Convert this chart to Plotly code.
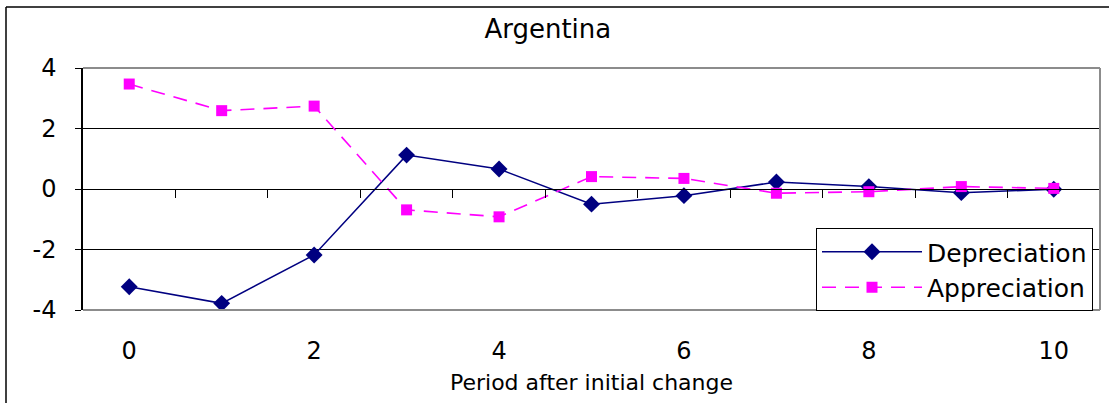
import plotly.graph_objects as go

# Response of the series in each period after the initial change
periods = [0, 1, 2, 3, 4, 5, 6, 7, 8, 9, 10]
depreciation = [-3.23, -3.78, -2.18, 1.12, 0.66, -0.50, -0.22, 0.23, 0.08, -0.12, -0.01]
appreciation = [3.47, 2.59, 2.74, -0.69, -0.92, 0.41, 0.35, -0.14, -0.09, 0.08, 0.02]

y_tickvals = [-4, -2, 0, 2, 4]
y_ticktext = ["-4", "-2", "0", "2", "4"]
x_tickvals = [0, 2, 4, 6, 8, 10]
x_ticktext = ["0", "2", "4", "6", "8", "10"]
# category boundaries where the small tick marks sit on the zero line
x_boundaries = [p + 0.5 for p in periods[:-1]]

FONT = "DejaVu Sans"
W, H = 1109, 403
ML, MR, MT, MB = 83, 9, 68, 93
plot_w = W - ML - MR
plot_h = H - MT - MB

fig = go.Figure()

fig.add_trace(go.Scatter(
    x=periods, y=depreciation, name="Depreciation", mode="lines+markers",
    line=dict(color="#000080", width=1.5),
    marker=dict(symbol="diamond", size=13, color="#000080"),
))
fig.add_trace(go.Scatter(
    x=periods, y=appreciation, name="Appreciation", mode="lines+markers",
    line=dict(color="#FF00FF", width=1.6, dash="14px,9px"),
    marker=dict(symbol="square", size=11, color="#FF00FF"),
))
# empty trace so the zero-line axis gets drawn
fig.add_trace(go.Scatter(x=[], y=[], xaxis="x2", showlegend=False, hoverinfo="skip"))

fig.update_layout(
    width=W, height=H,
    margin=dict(l=ML, r=MR, t=MT, b=MB),
    paper_bgcolor="white", plot_bgcolor="white",
    font=dict(family=FONT, color="black"),
    title=dict(text="Argentina", x=0.494, xanchor="center", y=1 - 29 / H,
               yanchor="middle", font=dict(family=FONT, size=26, color="black")),
    showlegend=True,
    legend=dict(
        x=(816 - ML) / plot_w, y=(H - MB - 228) / plot_h,
        xanchor="left", yanchor="top",
        bgcolor="white", bordercolor="black", borderwidth=1,
        font=dict(family=FONT, size=25, color="black"),
        itemwidth=100,
    ),
    xaxis=dict(
        range=[-0.5, 10.5], tickvals=x_tickvals, ticktext=x_ticktext,
        showgrid=False, zeroline=False, showline=False, ticks="",
        tickfont=dict(family=FONT, size=24), ticklabelstandoff=24,
        title=dict(text="Period after initial change",
                   font=dict(family=FONT, size=22), standoff=10),
    ),
    xaxis2=dict(
        range=[-0.5, 10.5], overlaying="x", anchor="free", position=0.5,
        side="bottom", tickvals=x_boundaries, showticklabels=False,
        ticks="outside", ticklen=8, tickcolor="black", tickwidth=1,
        showline=True, linecolor="black", linewidth=1,
        showgrid=False, zeroline=False,
    ),
    yaxis=dict(
        range=[-4, 4], tickvals=y_tickvals, ticktext=y_ticktext,
        showgrid=True, gridcolor="black", gridwidth=1, zeroline=False,
        showline=True, linecolor="black", linewidth=1.5,
        ticks="outside", ticklen=6, tickcolor="black",
        tickfont=dict(family=FONT, size=24), ticklabelstandoff=14,
    ),
)

# grey plot-area border on the top, right and bottom
for x0, y0, x1, y1 in [(0, 1, 1, 1), (1, 0, 1, 1), (0, 0, 1, 0)]:
    fig.add_shape(type="line", xref="x domain", yref="y domain",
                  x0=x0, y0=y0, x1=x1, y1=y1,
                  line=dict(color="#8c8c8c", width=2), layer="above")

# outer chart frame
fx = (6 - ML) / plot_w
fy = 1 + (MT - 7) / plot_h
fig.add_shape(type="line", xref="paper", yref="paper", x0=fx, y0=-1, x1=fx, y1=fy,
              line=dict(color="black", width=1.5))
fig.add_shape(type="line", xref="paper", yref="paper", x0=fx, y0=fy, x1=1.2, y1=fy,
              line=dict(color="black", width=1.5))

fig.write_html("out.html")
